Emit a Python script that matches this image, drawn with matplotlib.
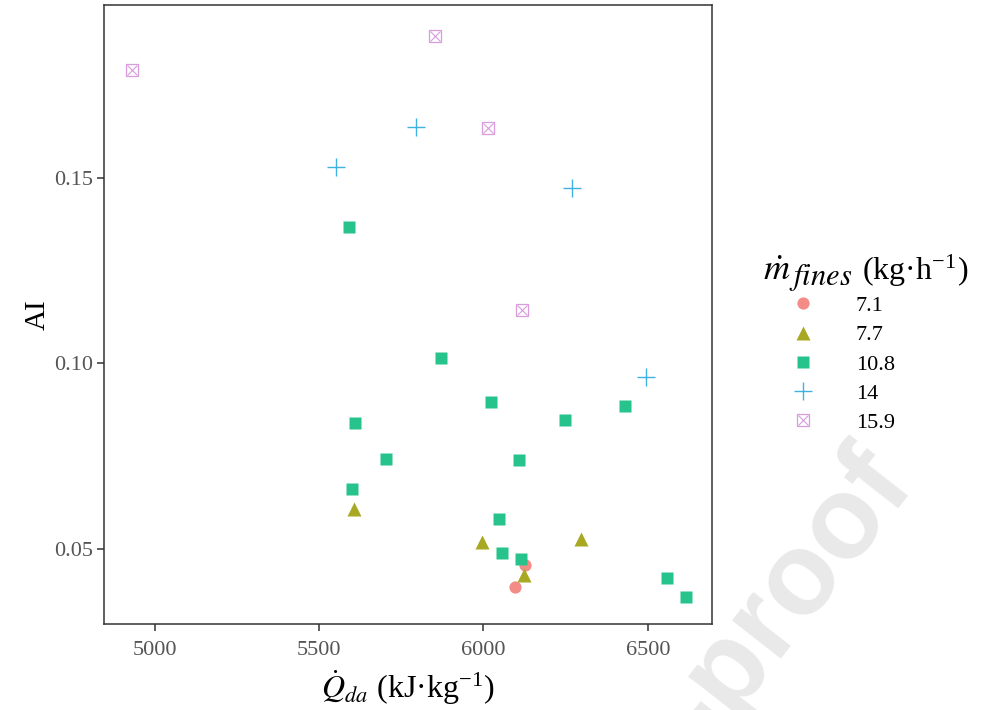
import matplotlib
matplotlib.use("Agg")
import matplotlib.pyplot as plt
from matplotlib.lines import Line2D

plt.rcParams['font.family'] = ['Liberation Serif', 'DejaVu Serif']
plt.rcParams['mathtext.fontset'] = 'stix'

# ---- data ----
groups = ['7.1', '7.7', '10.8', '14', '15.9']

x_71 = [6126, 6097]
y_71 = [0.0458, 0.0399]

x_77 = [5607, 5996, 6297, 6123]
y_77 = [0.0609, 0.0519, 0.0528, 0.0431]

x_108 = [5591, 5872, 6022, 6430, 5608, 6248, 5704, 6109, 5601, 6047, 6056, 6113, 6558, 6616]
y_108 = [0.1367, 0.1015, 0.0897, 0.0885, 0.0840, 0.0849, 0.0743, 0.0741, 0.0663, 0.0581,
         0.0489, 0.0474, 0.0421, 0.0372]

x_14 = [5796, 5552, 6270, 6494]
y_14 = [0.1638, 0.1529, 0.1474, 0.0964]

x_159 = [4930, 5852, 6015, 6116]
y_159 = [0.1792, 0.1882, 0.1634, 0.1145]

x_ticks = [5000, 5500, 6000, 6500]
y_ticks = [0.05, 0.10, 0.15]
y_ticklabels = ['0.05', '0.10', '0.15']

colors = ['#F38C86', '#A8A823', '#26C48C', '#3FB1E3', '#D99BDD']

W, H = 983, 710
fig = plt.figure(figsize=(W / 100, H / 100), dpi=100)


def fx(px):
    return px / W


def fy(py):
    return 1 - py / H


# watermark
fig.text(fx(915), fy(482), '-proof', fontsize=84, color='#E9E9E9', fontweight='bold',
         family='Liberation Sans', rotation=52, ha='right', va='baseline',
         rotation_mode='anchor', zorder=0)

ax = fig.add_axes([fx(104), fy(624), (712 - 104) / W, (624 - 5) / H])
ax.set_facecolor('none')

ms_sq = 8.6
ax.plot(x_71, y_71, 'o', ms=8.8, color=colors[0], mec='none', zorder=3)
ax.plot(x_77, y_77, '^', ms=10.5, color=colors[1], mec='none', zorder=3)
ax.plot(x_108, y_108, 's', ms=ms_sq, color=colors[2], mec='none', zorder=3)
ax.plot(x_14, y_14, '+', ms=13, color=colors[3], mew=1.0, zorder=3)
ax.plot(x_159, y_159, 's', ms=9.2, mfc='none', mec=colors[4], mew=0.9, zorder=3)
ax.plot(x_159, y_159, 'x', ms=6.6, color=colors[4], mew=0.8, zorder=3)

ax.set_xlim(4846, 6695)
ax.set_ylim(0.0298, 0.1966)
ax.set_xticks(x_ticks)
ax.set_xticklabels([str(v) for v in x_ticks])
ax.set_yticks(y_ticks)
ax.set_yticklabels(y_ticklabels)

for s in ax.spines.values():
    s.set_linewidth(1.1)
    s.set_color('#333333')
ax.tick_params(axis='both', direction='out', length=5, width=1.1, color='#333333',
               labelsize=16, labelcolor='#555555')
ax.tick_params(axis='y', pad=2.5)
ax.tick_params(axis='x', pad=7)

ax.set_xlabel(r'$\dot{Q}_{da}$ (kJ·kg$^{\mathregular{-1}}$)', fontsize=23, labelpad=6)
ax.set_ylabel('AI', fontsize=21, labelpad=3)

# legend title (pieces, so the subscript can be as large as in the reference)
fig.text(fx(763), fy(280), r'$\dot{m}$', fontsize=26, va='baseline', ha='left')
fig.text(fx(789), fy(285), r'$\mathit{fines}$', fontsize=22, va='baseline', ha='left')
fig.text(fx(862), fy(280), r'(kg·h$^{\mathregular{-1}}$)', fontsize=23, va='baseline', ha='left')

# legend entries
handles = [
    Line2D([], [], ls='none', marker='o', ms=8.8, color=colors[0], mec='none'),
    Line2D([], [], ls='none', marker='^', ms=10.5, color=colors[1], mec='none'),
    Line2D([], [], ls='none', marker='s', ms=ms_sq, color=colors[2], mec='none'),
    Line2D([], [], ls='none', marker='+', ms=13, color=colors[3], mew=1.0),
    (Line2D([], [], ls='none', marker='s', ms=9.2, mfc='none', mec=colors[4], mew=0.9),
     Line2D([], [], ls='none', marker='x', ms=6.6, color=colors[4], mew=0.8)),
]
leg = fig.legend(handles, groups, loc='upper left',
                 bbox_to_anchor=(fx(789.7), fy(295.5)),
                 fontsize=16, frameon=False,
                 labelspacing=0.39, handlelength=1.2, handletextpad=1.78,
                 borderpad=0, borderaxespad=0)

fig.savefig('out.png', dpi=100)
